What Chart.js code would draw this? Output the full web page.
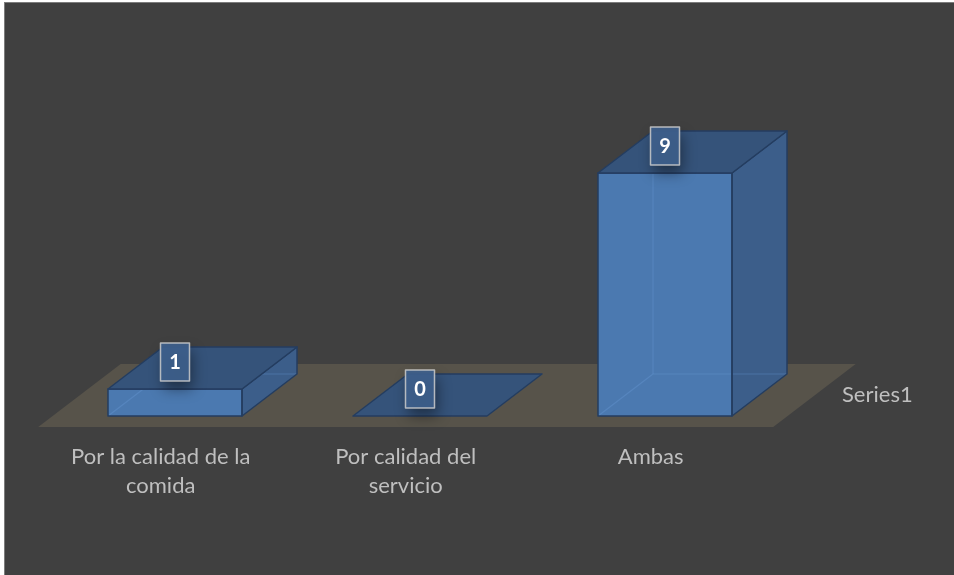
<!DOCTYPE html>
<html>
<head>
<meta charset="utf-8">
<title>Motivo de preferencia</title>
<style>
  html, body { margin: 0; padding: 0; background: #ffffff; }
  #wrap { width: 954px; height: 575px; }
  canvas { display: block; }
</style>
<script src="https://cdn.jsdelivr.net/npm/chart.js@4.4.1/dist/chart.umd.min.js"></script>
</head>
<body>
<div id="wrap"><canvas id="chart" width="954" height="575"></canvas></div>
<script>
// Categories (multi-line where the label wraps), values and series name
const categories = [["Por la calidad de la", "comida"], ["Por calidad del", "servicio"], "Ambas"];
const values = [1, 0, 9];
const seriesName = "Series1";
const valueRange = [0, 10];

// Oblique projection used for the 3D look: one unit of depth moves a point by (dx, dy) pixels
const depth = { dx: 55, dy: -42 };
const floorDepth = [-0.26, 1.24];

const colors = {
  page: '#ffffff',
  frame: '#7c7c7c',
  background: '#404040',
  floor: '#57534a',
  front: 'rgb(75,121,176)',
  side: 'rgb(60,94,138)',
  top: 'rgb(53,83,122)',
  edge: 'rgb(36,61,96)',
  hidden: 'rgba(105,155,215,0.35)',
  text: '#bfbfbf',
  labelFill: 'rgba(62,96,140,0.92)',
  labelBorder: 'rgba(205,205,205,0.85)'
};
const fontFamily = 'Lato, "Open Sans", sans-serif';

function proj(x, y, d) { return [x + depth.dx * d, y + depth.dy * d]; }

function poly(ctx, pts, fill, stroke) {
  ctx.beginPath();
  ctx.moveTo(pts[0][0], pts[0][1]);
  for (let i = 1; i < pts.length; i++) ctx.lineTo(pts[i][0], pts[i][1]);
  ctx.closePath();
  if (fill) { ctx.fillStyle = fill; ctx.fill(); }
  if (stroke) { ctx.strokeStyle = stroke; ctx.lineWidth = 1.5; ctx.lineJoin = 'round'; ctx.stroke(); }
}

function line(ctx, a, b) {
  ctx.beginPath();
  ctx.moveTo(a[0], a[1]);
  ctx.lineTo(b[0], b[1]);
  ctx.stroke();
}

// Page, thin frame and dark chart background
const backgroundPlugin = {
  id: 'background',
  beforeDraw(chart) {
    const ctx = chart.ctx, w = chart.width, h = chart.height;
    ctx.save();
    ctx.fillStyle = colors.page; ctx.fillRect(0, 0, w, h);
    ctx.fillStyle = colors.frame; ctx.fillRect(4, 2, w - 4, h - 2);
    ctx.fillStyle = colors.background; ctx.fillRect(5, 3, w - 5, h - 3);
    ctx.restore();
  }
};

// Floor plane under the bars, spanning the category axis
const floorPlugin = {
  id: 'floor',
  beforeDatasetsDraw(chart) {
    const ctx = chart.ctx;
    const { left, right } = chart.chartArea;
    const base = chart.scales.y.getPixelForValue(0);
    ctx.save();
    poly(ctx, [
      proj(left, base, floorDepth[0]), proj(right, base, floorDepth[0]),
      proj(right, base, floorDepth[1]), proj(left, base, floorDepth[1])
    ], colors.floor);
    ctx.restore();
  }
};

// Extrude each bar element into a box, then add value labels and the series name
const boxPlugin = {
  id: 'boxes',
  afterDatasetsDraw(chart) {
    const ctx = chart.ctx;
    const meta = chart.getDatasetMeta(0);
    const ds = chart.data.datasets[0];
    ctx.save();
    meta.data.forEach((el, i) => {
      const p = el.getProps(['x', 'y', 'base', 'width'], true);
      const l = p.x - p.width / 2, r = p.x + p.width / 2, t = p.y, b = p.base;
      if (b - t > 0.5) {
        poly(ctx, [[l, t], [r, t], [r, b], [l, b]], colors.front);
        poly(ctx, [[r, t], [r, b], proj(r, b, 1), proj(r, t, 1)], colors.side);
        // edges behind the translucent faces
        ctx.strokeStyle = colors.hidden; ctx.lineWidth = 1.2;
        line(ctx, proj(l, b, 1), proj(l, t, 1));
        line(ctx, proj(l, b, 1), proj(r, b, 1));
        line(ctx, [l, b], proj(l, b, 1));
        poly(ctx, [[l, t], [r, t], [r, b], [l, b]], null, colors.edge);
        poly(ctx, [[r, t], [r, b], proj(r, b, 1), proj(r, t, 1)], null, colors.edge);
      }
      poly(ctx, [[l, t], [r, t], proj(r, t, 1), proj(l, t, 1)], colors.top, colors.edge);
    });

    // value labels sitting on the top faces
    meta.data.forEach((el, i) => {
      const p = el.getProps(['x', 'y'], true);
      const cx = p.x, cy = p.y + depth.dy * 0.5 - 6;
      const bw = 29, bh = 38;
      ctx.save();
      ctx.shadowColor = 'rgba(0,0,0,0.45)';
      ctx.shadowBlur = 14;
      ctx.shadowOffsetX = 3;
      ctx.shadowOffsetY = 8;
      ctx.fillStyle = colors.labelFill;
      ctx.fillRect(cx - bw / 2, cy - bh / 2, bw, bh);
      ctx.restore();
      ctx.strokeStyle = colors.labelBorder; ctx.lineWidth = 1.5;
      ctx.strokeRect(cx - bw / 2, cy - bh / 2, bw, bh);
      ctx.fillStyle = '#ffffff';
      ctx.font = 'bold 20px ' + fontFamily;
      ctx.textAlign = 'center'; ctx.textBaseline = 'middle';
      ctx.fillText(String(ds.data[i]), cx, cy + 1);
    });

    // series name along the depth axis
    const { right } = chart.chartArea;
    const base = chart.scales.y.getPixelForValue(0);
    const sp = proj(right, base, 0.5);
    ctx.fillStyle = colors.text;
    ctx.font = '22px ' + fontFamily;
    ctx.textAlign = 'left'; ctx.textBaseline = 'middle';
    ctx.fillText(ds.label, sp[0] + 27, sp[1]);
    ctx.restore();
  }
};

new Chart(document.getElementById('chart'), {
  type: 'bar',
  data: {
    labels: categories,
    datasets: [{
      label: seriesName,
      data: values,
      backgroundColor: 'rgba(0,0,0,0)',
      borderWidth: 0,
      barPercentage: 1,
      categoryPercentage: 0.547
    }]
  },
  options: {
    responsive: false,
    animation: false,
    devicePixelRatio: 1,
    layout: { padding: { left: 52.5, right: 166.5, top: 146, bottom: 0 } },
    plugins: { legend: { display: false }, tooltip: { enabled: false } },
    scales: {
      x: {
        grid: { display: false, drawTicks: false },
        border: { display: false },
        ticks: {
          color: colors.text,
          padding: 26,
          // labels sit at the front edge of the floor, so they shift with the depth slant
          labelOffset: depth.dx * floorDepth[0],
          maxRotation: 0,
          autoSkip: false,
          font: { family: fontFamily, size: 22, lineHeight: 1.32 }
        },
        afterFit(scale) { scale.height = 159; }
      },
      y: {
        display: false,
        min: valueRange[0],
        max: valueRange[1]
      }
    }
  },
  plugins: [backgroundPlugin, floorPlugin, boxPlugin]
});
</script>
</body>
</html>
